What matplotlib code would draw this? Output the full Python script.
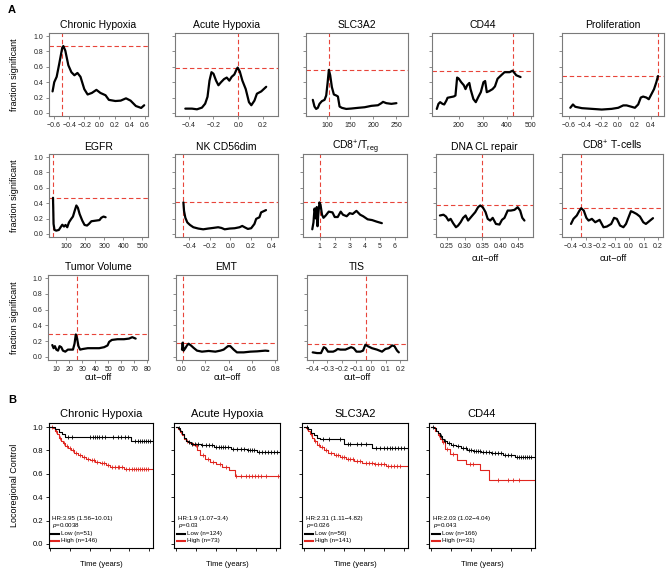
import numpy as np
import matplotlib
matplotlib.use("Agg")
import matplotlib.pyplot as plt

plt.rcParams['font.family'] = ['Liberation Sans', 'DejaVu Sans']
plt.rcParams['mathtext.fontset'] = 'custom'
plt.rcParams['mathtext.rm'] = 'Liberation Sans'
plt.rcParams['mathtext.it'] = 'Liberation Sans:italic'
plt.rcParams['mathtext.default'] = 'regular'

W, H = 669, 569

# ---------------- A: fraction significant vs cut-off ----------------
chronic_x = [-0.618, -0.596, -0.564, -0.53, -0.49, -0.476, -0.45, -0.41, -0.37, -0.33, -0.29, -0.25,
             -0.2, -0.156, -0.1, -0.04, 0.013, 0.08, 0.124, 0.21, 0.28, 0.35, 0.41, 0.48, 0.55, 0.59]
chronic_y = [0.28, 0.40, 0.47, 0.64, 0.85, 0.87, 0.81, 0.62, 0.53, 0.49, 0.52, 0.47,
             0.31, 0.24, 0.26, 0.30, 0.26, 0.23, 0.17, 0.155, 0.16, 0.19, 0.16, 0.09, 0.065, 0.10]

acute_x = [-0.427, -0.373, -0.333, -0.293, -0.267, -0.248, -0.232, -0.216, -0.2, -0.179, -0.16, -0.139,
           -0.115, -0.093, -0.072, -0.053, -0.032, -0.013, -0.005, 0.012, 0.033, 0.06, 0.086, 0.105,
           0.13, 0.15, 0.185, 0.225]
acute_y = [0.056, 0.056, 0.047, 0.069, 0.12, 0.21, 0.42, 0.53, 0.51, 0.42, 0.36, 0.40,
           0.44, 0.46, 0.42, 0.47, 0.50, 0.57, 0.59, 0.54, 0.42, 0.31, 0.14, 0.10,
           0.16, 0.25, 0.28, 0.34]

slc_x = [69.7, 73.3, 76.9, 80.5, 84.1, 89.2, 95, 98.6, 101.4, 104.3, 107.2, 110.8, 115.1, 120.2,
         123.8, 127.4, 132.4, 141.8, 152.6, 167, 181.5, 195.9, 210.3, 217.5, 221.1, 228.3, 239.1, 250]
slc_y = [0.17, 0.083, 0.052, 0.066, 0.118, 0.153, 0.17, 0.227, 0.38, 0.56, 0.49, 0.336, 0.24, 0.227,
         0.214, 0.083, 0.066, 0.052, 0.057, 0.066, 0.074, 0.092, 0.10, 0.127, 0.144, 0.127, 0.118, 0.127]

cd44_x = [108, 115, 122, 132, 139, 148, 153, 165, 179, 186, 193, 200, 210, 221, 228, 235, 244, 249,
          261, 271, 281, 292, 303, 310, 317, 327, 341, 351, 362, 377, 391, 412, 425, 440, 458]
cd44_y = [0.052, 0.118, 0.14, 0.118, 0.11, 0.16, 0.197, 0.205, 0.214, 0.227, 0.46, 0.445, 0.40, 0.36,
          0.31, 0.36, 0.39, 0.31, 0.18, 0.14, 0.205, 0.27, 0.40, 0.415, 0.27, 0.284, 0.31, 0.345,
          0.445, 0.49, 0.53, 0.53, 0.55, 0.49, 0.467]

prolif_x = [-0.579, -0.547, -0.519, -0.438, -0.318, -0.197, -0.076, 0.004, 0.065, 0.105, 0.165,
            0.206, 0.246, 0.278, 0.306, 0.346, 0.375, 0.407, 0.439, 0.467, 0.487]
prolif_y = [0.067, 0.11, 0.08, 0.062, 0.053, 0.044, 0.053, 0.067, 0.098, 0.098, 0.08,
            0.067, 0.11, 0.20, 0.213, 0.20, 0.178, 0.244, 0.31, 0.40, 0.48]

egfr_x = [30, 31.6, 33, 38, 47, 61, 70, 79, 88, 96, 105, 114, 126, 135, 144, 153, 161, 170, 184,
          196, 209, 219, 232, 258, 275, 284, 296, 307]
egfr_y = [0.47, 0.30, 0.13, 0.052, 0.043, 0.052, 0.087, 0.12, 0.096, 0.117, 0.087, 0.15, 0.196, 0.226,
          0.30, 0.37, 0.34, 0.26, 0.174, 0.117, 0.109, 0.13, 0.165, 0.174, 0.18, 0.21, 0.226, 0.217]

nk_x = [-0.458, -0.452, -0.439, -0.42, -0.394, -0.361, -0.313, -0.265, -0.216, -0.168, -0.119, -0.087,
        -0.055, -0.006, 0.042, 0.090, 0.116, 0.139, 0.171, 0.203, 0.235, 0.252, 0.284, 0.30, 0.348]
nk_y = [0.41, 0.30, 0.21, 0.15, 0.117, 0.087, 0.07, 0.06, 0.07, 0.078, 0.087, 0.078,
        0.06, 0.07, 0.074, 0.087, 0.104, 0.087, 0.065, 0.074, 0.13, 0.196, 0.217, 0.28, 0.31]

cd8treg_x = [0.5, 0.58, 0.65, 0.7, 0.75, 0.8, 0.85, 0.9, 0.98, 1.05, 1.15, 1.25, 1.4, 1.6, 1.85, 2.0,
             2.2, 2.4, 2.55, 2.8, 3.0, 3.2, 3.45, 3.7, 3.9, 4.2, 4.5, 4.8, 5.15]
cd8treg_y = [0.06, 0.15, 0.33, 0.28, 0.20, 0.35, 0.10, 0.25, 0.41, 0.38, 0.25, 0.21, 0.24, 0.29, 0.28, 0.22,
             0.22, 0.29, 0.25, 0.23, 0.27, 0.26, 0.30, 0.25, 0.23, 0.19, 0.18, 0.16, 0.14]

dna_x = [0.231, 0.241, 0.248, 0.255, 0.261, 0.268, 0.276, 0.282, 0.289, 0.296, 0.303, 0.31, 0.314,
         0.322, 0.33, 0.338, 0.344, 0.351, 0.359, 0.365, 0.372, 0.379, 0.388, 0.398, 0.405, 0.412,
         0.421, 0.43, 0.44, 0.449, 0.456, 0.462, 0.468]
dna_y = [0.24, 0.25, 0.226, 0.174, 0.196, 0.14, 0.087, 0.109, 0.152, 0.209, 0.24, 0.174, 0.196,
         0.24, 0.283, 0.348, 0.37, 0.348, 0.283, 0.196, 0.174, 0.209, 0.13, 0.122, 0.183, 0.209,
         0.304, 0.304, 0.313, 0.348, 0.304, 0.209, 0.174]

cd8t_x = [-0.4, -0.383, -0.36, -0.344, -0.33, -0.312, -0.294, -0.279, -0.256, -0.233, -0.203, -0.176,
          -0.153, -0.123, -0.103, -0.084, -0.062, -0.039, -0.021, -0.005, 0.013, 0.029, 0.052, 0.075,
          0.098, 0.116, 0.139, 0.165]
cd8t_y = [0.13, 0.196, 0.24, 0.296, 0.335, 0.304, 0.209, 0.174, 0.196, 0.152, 0.183, 0.087,
          0.096, 0.13, 0.209, 0.196, 0.109, 0.087, 0.13, 0.209, 0.296, 0.283, 0.26, 0.226,
          0.152, 0.13, 0.165, 0.205]

tv_x = [6.9, 7.9, 8.9, 10, 11.3, 12.5, 13.8, 15.1, 16.9, 18.9, 20.7, 22.8, 24, 25, 26, 27, 28.3, 30.4,
        34.2, 38, 43, 46.8, 49.4, 50.6, 52.7, 57, 62, 65.9, 68.4, 71]
tv_y = [0.15, 0.11, 0.136, 0.092, 0.079, 0.136, 0.123, 0.079, 0.066, 0.092, 0.092, 0.092, 0.167, 0.285,
        0.232, 0.136, 0.092, 0.10, 0.11, 0.11, 0.11, 0.123, 0.145, 0.19, 0.215, 0.224, 0.224, 0.232,
        0.25, 0.232]

emt_x = [0.0, 0.006, 0.014, 0.029, 0.043, 0.057, 0.077, 0.1, 0.129, 0.171, 0.229, 0.286, 0.329, 0.357,
         0.394, 0.414, 0.443, 0.471, 0.529, 0.586, 0.643, 0.714, 0.74]
emt_y = [0.092, 0.18, 0.079, 0.11, 0.145, 0.167, 0.145, 0.114, 0.079, 0.066, 0.075, 0.066, 0.079, 0.092,
         0.136, 0.136, 0.092, 0.057, 0.057, 0.066, 0.07, 0.079, 0.075]

tis_x = [-0.4, -0.37, -0.343, -0.324, -0.311, -0.295, -0.26, -0.244, -0.229, -0.21, -0.176, -0.153,
         -0.137, -0.119, -0.1, -0.073, -0.055, -0.039, -0.023, 0.006, 0.04, 0.075, 0.098, 0.121,
         0.144, 0.16, 0.178, 0.19]
tis_y = [0.057, 0.048, 0.048, 0.123, 0.11, 0.066, 0.066, 0.079, 0.10, 0.092, 0.092, 0.11,
         0.123, 0.11, 0.066, 0.066, 0.079, 0.154, 0.136, 0.11, 0.092, 0.066, 0.10, 0.11,
         0.145, 0.136, 0.079, 0.057]

# optimal cut-off (x) and its fraction significant (y), drawn as red guides
best_cut = {
    "Chronic Hypoxia": (-0.49, 0.87), "Acute Hypoxia": (-0.005, 0.59), "SLC3A2": (104.3, 0.565),
    "CD44": (425, 0.55), "Proliferation": (0.487, 0.48), "EGFR": (30, 0.47),
    "NK CD56dim": (-0.458, 0.41), "CD8treg": (1.0, 0.41), "DNA CL repair": (0.35, 0.37),
    "CD8 T-cells": (-0.33, 0.34), "Tumor Volume": (25.8, 0.29), "EMT": (0.009, 0.18),
    "TIS": (-0.035, 0.16),
}

# ---------------- B: Kaplan-Meier curves ----------------
ch_low_t = [0, 0.5, 0.9, 1.2, 1.5, 8.2, 10.3]
ch_low_s = [1.0, 0.98, 0.96, 0.94, 0.915, 0.885, 0.885]
ch_low_c = [1.8, 2.2, 4.0, 4.3, 4.5, 4.7, 4.9, 5.2, 5.5, 6.3, 6.9, 7.2, 7.6, 7.9, 8.6, 8.9, 9.1,
            9.3, 9.5, 9.7, 9.9, 10.1]
ch_high_t = [0, 0.3, 0.5, 0.7, 0.9, 1.1, 1.3, 1.5, 1.8, 2.1, 2.4, 2.8, 3.2, 3.6, 4.0, 4.5, 5.0, 5.6,
             6.0, 7.5, 10.3]
ch_high_s = [1.0, 0.99, 0.97, 0.94, 0.91, 0.88, 0.86, 0.84, 0.82, 0.80, 0.78, 0.76, 0.745, 0.73,
             0.715, 0.70, 0.69, 0.675, 0.655, 0.645, 0.645]
ch_high_c = [0.2, 0.6, 1.0, 1.4, 1.7, 2.0, 2.3, 2.6, 3.0, 3.4, 3.8, 4.2, 4.4, 4.7, 5.2, 5.4, 5.8, 6.2,
             6.5, 6.8, 7.0, 7.3, 7.7, 8.0, 8.3, 8.5, 8.7, 8.9, 9.1, 9.3, 9.5, 9.7, 9.9]

ac_low_t = [0, 0.2, 0.4, 0.6, 0.8, 1.0, 1.2, 1.5, 2.5, 3.8, 5.5, 7.1, 8.1, 10.3]
ac_low_s = [1.0, 0.99, 0.97, 0.94, 0.91, 0.88, 0.87, 0.855, 0.845, 0.83, 0.815, 0.80, 0.785, 0.785]
ac_low_c = [0.3, 1.3, 1.6, 1.9, 2.2, 2.6, 3.0, 3.3, 3.6, 4.0, 4.3, 4.5, 4.7, 4.9, 5.2, 5.7, 6.1, 6.5,
            6.8, 7.2, 7.4, 7.6, 7.8, 8.3, 8.6, 8.9, 9.2, 9.5, 9.8, 10.1]
ac_high_t = [0, 0.2, 0.4, 0.6, 0.8, 1.0, 1.3, 1.7, 2.1, 2.4, 2.9, 3.4, 4.0, 4.6, 5.3, 5.9, 10.3]
ac_high_s = [1.0, 0.98, 0.96, 0.93, 0.90, 0.88, 0.86, 0.85, 0.80, 0.76, 0.73, 0.70, 0.68, 0.66,
             0.63, 0.585, 0.585]
ac_high_c = [0.5, 1.1, 2.0, 2.7, 3.2, 3.7, 4.4, 5.0, 6.0, 6.5, 7.0, 7.3, 7.6, 7.9, 8.2, 8.5, 9.0, 10.2]

slc_low_t = [0, 0.4, 0.7, 1.0, 1.3, 1.6, 4.0, 6.8, 10.3]
slc_low_s = [1.0, 0.98, 0.95, 0.93, 0.91, 0.895, 0.855, 0.82, 0.82]
slc_low_c = [0.3, 1.9, 2.5, 3.6, 4.4, 4.6, 5.3, 5.7, 6.2, 7.2, 7.6, 8.0, 8.3, 8.6, 8.8, 9.1, 9.4,
             9.7, 10.0]
slc_high_t = [0, 0.2, 0.4, 0.6, 0.8, 1.0, 1.3, 1.6, 2.0, 2.4, 3.0, 3.6, 4.2, 5.0, 5.8, 7.0, 8.2, 10.3]
slc_high_s = [1.0, 0.99, 0.97, 0.94, 0.91, 0.88, 0.85, 0.83, 0.80, 0.78, 0.765, 0.745, 0.725, 0.71,
              0.69, 0.68, 0.665, 0.665]
slc_high_c = [0.3, 0.7, 1.1, 1.5, 1.8, 2.2, 2.7, 3.2, 3.4, 3.8, 4.0, 4.4, 4.6, 4.9, 5.3, 5.6, 6.2,
              6.5, 6.8, 7.1, 7.4, 7.7, 8.0, 8.4, 8.7, 9.0, 9.3, 9.6]

cd_low_t = [0, 0.3, 0.5, 0.7, 0.9, 1.1, 1.3, 1.6, 2.0, 2.5, 3.0, 3.6, 4.2, 5.0, 6.0, 7.2, 8.4, 10.3]
cd_low_s = [1.0, 0.99, 0.97, 0.95, 0.92, 0.90, 0.88, 0.865, 0.85, 0.835, 0.82, 0.805, 0.795, 0.785,
            0.775, 0.765, 0.745, 0.745]
cd_low_c = [0.2, 1.0, 1.4, 1.8, 2.2, 2.7, 3.2, 3.5, 3.8, 4.0, 4.3, 4.5, 4.7, 4.9, 5.2, 5.5, 5.8, 6.1,
            6.4, 6.7, 7.0, 7.4, 7.7, 8.0, 8.6, 8.8, 9.0, 9.2, 9.4, 9.6, 9.8, 10.0]
cd_high_t = [0, 0.4, 0.7, 0.9, 1.1, 1.4, 1.9, 2.6, 3.5, 4.9, 5.8, 10.3]
cd_high_s = [1.0, 0.97, 0.935, 0.90, 0.87, 0.81, 0.77, 0.72, 0.68, 0.635, 0.55, 0.55]
cd_high_c = [0.8, 1.2, 1.6, 2.2, 3.9, 4.2, 6.7, 7.7, 8.2, 8.8]

km_titles = ["Chronic Hypoxia", "Acute Hypoxia", "SLC3A2", "CD44"]
km_hr = ["HR:3.95 (1.56\u221210.01)", "HR:1.9 (1.07\u22123.4)", "HR:2.31 (1.11\u22124.82)",
         "HR:2.03 (1.02\u22124.04)"]
km_p = ["0.0038", "0.03", "0.026", "0.043"]
km_n_low = [51, 124, 56, 166]
km_n_high = [146, 73, 141, 31]

fig = plt.figure(figsize=(W / 100, H / 100), dpi=100)


def box(l, t, r, b):
    return fig.add_axes([l / W, 1 - b / H, (r - l) / W, (b - t) / H])


def fmt_labels(ticks, fmt):
    return [(fmt % v).replace('-', '\u2212') for v in ticks]


grey = '#7a7a7a'
guide = '#e8453a'

panels = [
    # title, key, x, y, box, xlim, xticks, fmt
    ("Chronic Hypoxia", "Chronic Hypoxia", chronic_x, chronic_y, (49, 33, 148, 116), (-0.665, 0.64),
     [-0.6, -0.4, -0.2, 0, 0.2, 0.4, 0.6], '%.1f'),
    ("Acute Hypoxia", "Acute Hypoxia", acute_x, acute_y, (175, 33, 278, 116), (-0.51, 0.32),
     [-0.4, -0.2, 0, 0.2], '%.1f'),
    ("SLC3A2", "SLC3A2", slc_x, slc_y, (306, 33, 408, 116), (55, 275), [100, 150, 200, 250], '%d'),
    ("CD44", "CD44", cd44_x, cd44_y, (432, 33, 533, 116), (88, 510), [200, 300, 400, 500], '%d'),
    ("Proliferation", "Proliferation", prolif_x, prolif_y, (562, 33, 664, 116), (-0.68, 0.56),
     [-0.6, -0.4, -0.2, 0, 0.2, 0.4], '%.1f'),
    ("EGFR", "EGFR", egfr_x, egfr_y, (49, 154, 148, 237), (9, 530), [100, 200, 300, 400, 500], '%d'),
    ("NK CD56dim", "NK CD56dim", nk_x, nk_y, (175, 154, 278, 237), (-0.54, 0.465),
     [-0.4, -0.2, 0, 0.2, 0.4], '%.1f'),
    ("CD8$^{+}$/T$_{reg}$", "CD8treg", cd8treg_x, cd8treg_y, (303, 154, 407, 237), (-0.12, 6.83),
     [1, 2, 3, 4, 5, 6], '%d'),
    ("DNA CL repair", "DNA CL repair", dna_x, dna_y, (436, 154, 533, 237), (0.22, 0.492),
     [0.25, 0.30, 0.35, 0.40, 0.45], '%.2f'),
    ("CD8$^{+}$ T-cells", "CD8 T-cells", cd8t_x, cd8t_y, (562, 154, 663, 237), (-0.462, 0.234),
     [-0.4, -0.3, -0.2, -0.1, 0, 0.1, 0.2], '%.1f'),
    ("Tumor Volume", "Tumor Volume", tv_x, tv_y, (48, 275, 148, 360), (3.6, 80.5),
     [10, 20, 30, 40, 50, 60, 70, 80], '%d'),
    ("EMT", "EMT", emt_x, emt_y, (176, 275, 277, 360), (-0.051, 0.814), [0, 0.2, 0.4, 0.6, 0.8], '%.1f'),
    ("TIS", "TIS", tis_x, tis_y, (307, 275, 407, 360), (-0.439, 0.246),
     [-0.4, -0.3, -0.2, -0.1, 0, 0.1, 0.2], '%.1f'),
]

for i, (title, key, xs, ys, bx, xlim, xt, fmt) in enumerate(panels):
    ax = box(*bx)
    bxv, byv = best_cut[key]
    ax.axvline(bxv, color=guide, lw=0.8, ls=(0, (4, 2.5)), zorder=1)
    ax.axhline(byv, color=guide, lw=0.8, ls=(0, (4, 2.5)), zorder=1)
    ax.plot(xs, ys, color='black', lw=1.6, solid_joinstyle='round', solid_capstyle='round', zorder=2)
    ax.set_xlim(*xlim)
    ax.set_ylim(-0.04, 1.04)
    ax.set_xticks(xt, fmt_labels(xt, fmt))
    yt = [0, 0.2, 0.4, 0.6, 0.8, 1.0]
    if i in (0, 5, 10):
        ax.set_yticks(yt, fmt_labels(yt, '%.1f'))
    else:
        ax.set_yticks(yt, [''] * len(yt))
    ax.tick_params(length=2.5, width=0.6, color=grey, labelsize=5, pad=1.5, labelcolor='#222222')
    for s in ax.spines.values():
        s.set_color(grey)
        s.set_linewidth(0.8)
    # title on a fixed baseline so that super/subscripts do not shift it
    ax.text(0.5, 1.0 + 4.5 / (bx[3] - bx[1]), title, transform=ax.transAxes, ha='center',
            va='baseline', fontsize=7.5)

# axis labels for A
for yc in (75, 196, 318):
    fig.text(15 / W, 1 - yc / H, "fraction significant", rotation=90, ha='center', va='center',
             fontsize=6.5)
for xc, yc in [(98, 378), (227, 378), (357, 378), (485, 259), (613, 259)]:
    fig.text(xc / W, 1 - yc / H, "cut\u2212off", ha='center', va='center', fontsize=6.5)

# ---------------- B ----------------
km_boxes = [(49, 423, 153, 548), (174, 423, 280, 548), (302, 423, 408, 548), (429, 423, 535, 548)]
km_data = [
    (ch_low_t, ch_low_s, ch_low_c, ch_high_t, ch_high_s, ch_high_c),
    (ac_low_t, ac_low_s, ac_low_c, ac_high_t, ac_high_s, ac_high_c),
    (slc_low_t, slc_low_s, slc_low_c, slc_high_t, slc_high_s, slc_high_c),
    (cd_low_t, cd_low_s, cd_low_c, cd_high_t, cd_high_s, cd_high_c),
]
red = '#e0251f'


def step_at(t, s, c):
    idx = np.searchsorted(np.asarray(t), np.asarray(c), side='right') - 1
    return np.asarray(s)[idx]


for i, bx in enumerate(km_boxes):
    ax = box(*bx)
    lt, ls_, lc, ht, hs, hc = km_data[i]
    for t, s, c, col in [(ht, hs, hc, red), (lt, ls_, lc, 'black')]:
        ax.step(t, s, where='post', color=col, lw=0.8)
        ax.plot(c, step_at(t, s, c), ls='none', marker='|', ms=3.5, mew=0.6, color=col)
    ax.set_xlim(-0.15, 10.4)
    ax.set_ylim(-0.035, 1.035)
    ax.set_xticks([0, 2, 4, 6, 8, 10], [''] * 6)
    yt = [0, 0.2, 0.4, 0.6, 0.8, 1.0]
    if i == 0:
        ax.set_yticks(yt, fmt_labels(yt, '%.1f'))
    else:
        ax.set_yticks(yt, [''] * len(yt))
    ax.tick_params(length=2.5, width=0.6, labelsize=5.5, pad=1.5)
    for s in ax.spines.values():
        s.set_linewidth(0.8)
    ax.set_title(km_titles[i], fontsize=8, pad=4)
    ax.set_xlabel("Time (years)", fontsize=5.5, labelpad=5)
    ax.text(0.2, 0.215, km_hr[i], fontsize=4.5, va='center')
    ax.text(0.2, 0.155, r'$\mathit{p}$=' + km_p[i], fontsize=4.5, va='center')
    ax.plot([0.1, 0.9], [0.085, 0.085], color='black', lw=1.5)
    ax.plot([0.1, 0.9], [0.025, 0.025], color=red, lw=1.5)
    ax.text(1.1, 0.085, "Low (n=%d)" % km_n_low[i], fontsize=4.5, va='center')
    ax.text(1.1, 0.025, "High (n=%d)" % km_n_high[i], fontsize=4.5, va='center')

fig.text(15 / W, 1 - 485 / H, "Locoregional Control", rotation=90, ha='center', va='center',
         fontsize=6.5)
fig.text(8 / W, 1 - 10 / H, "A", fontsize=8, fontweight='bold', va='center')
fig.text(8 / W, 1 - 400 / H, "B", fontsize=8, fontweight='bold', va='center')

fig.savefig("out.png", dpi=100)
